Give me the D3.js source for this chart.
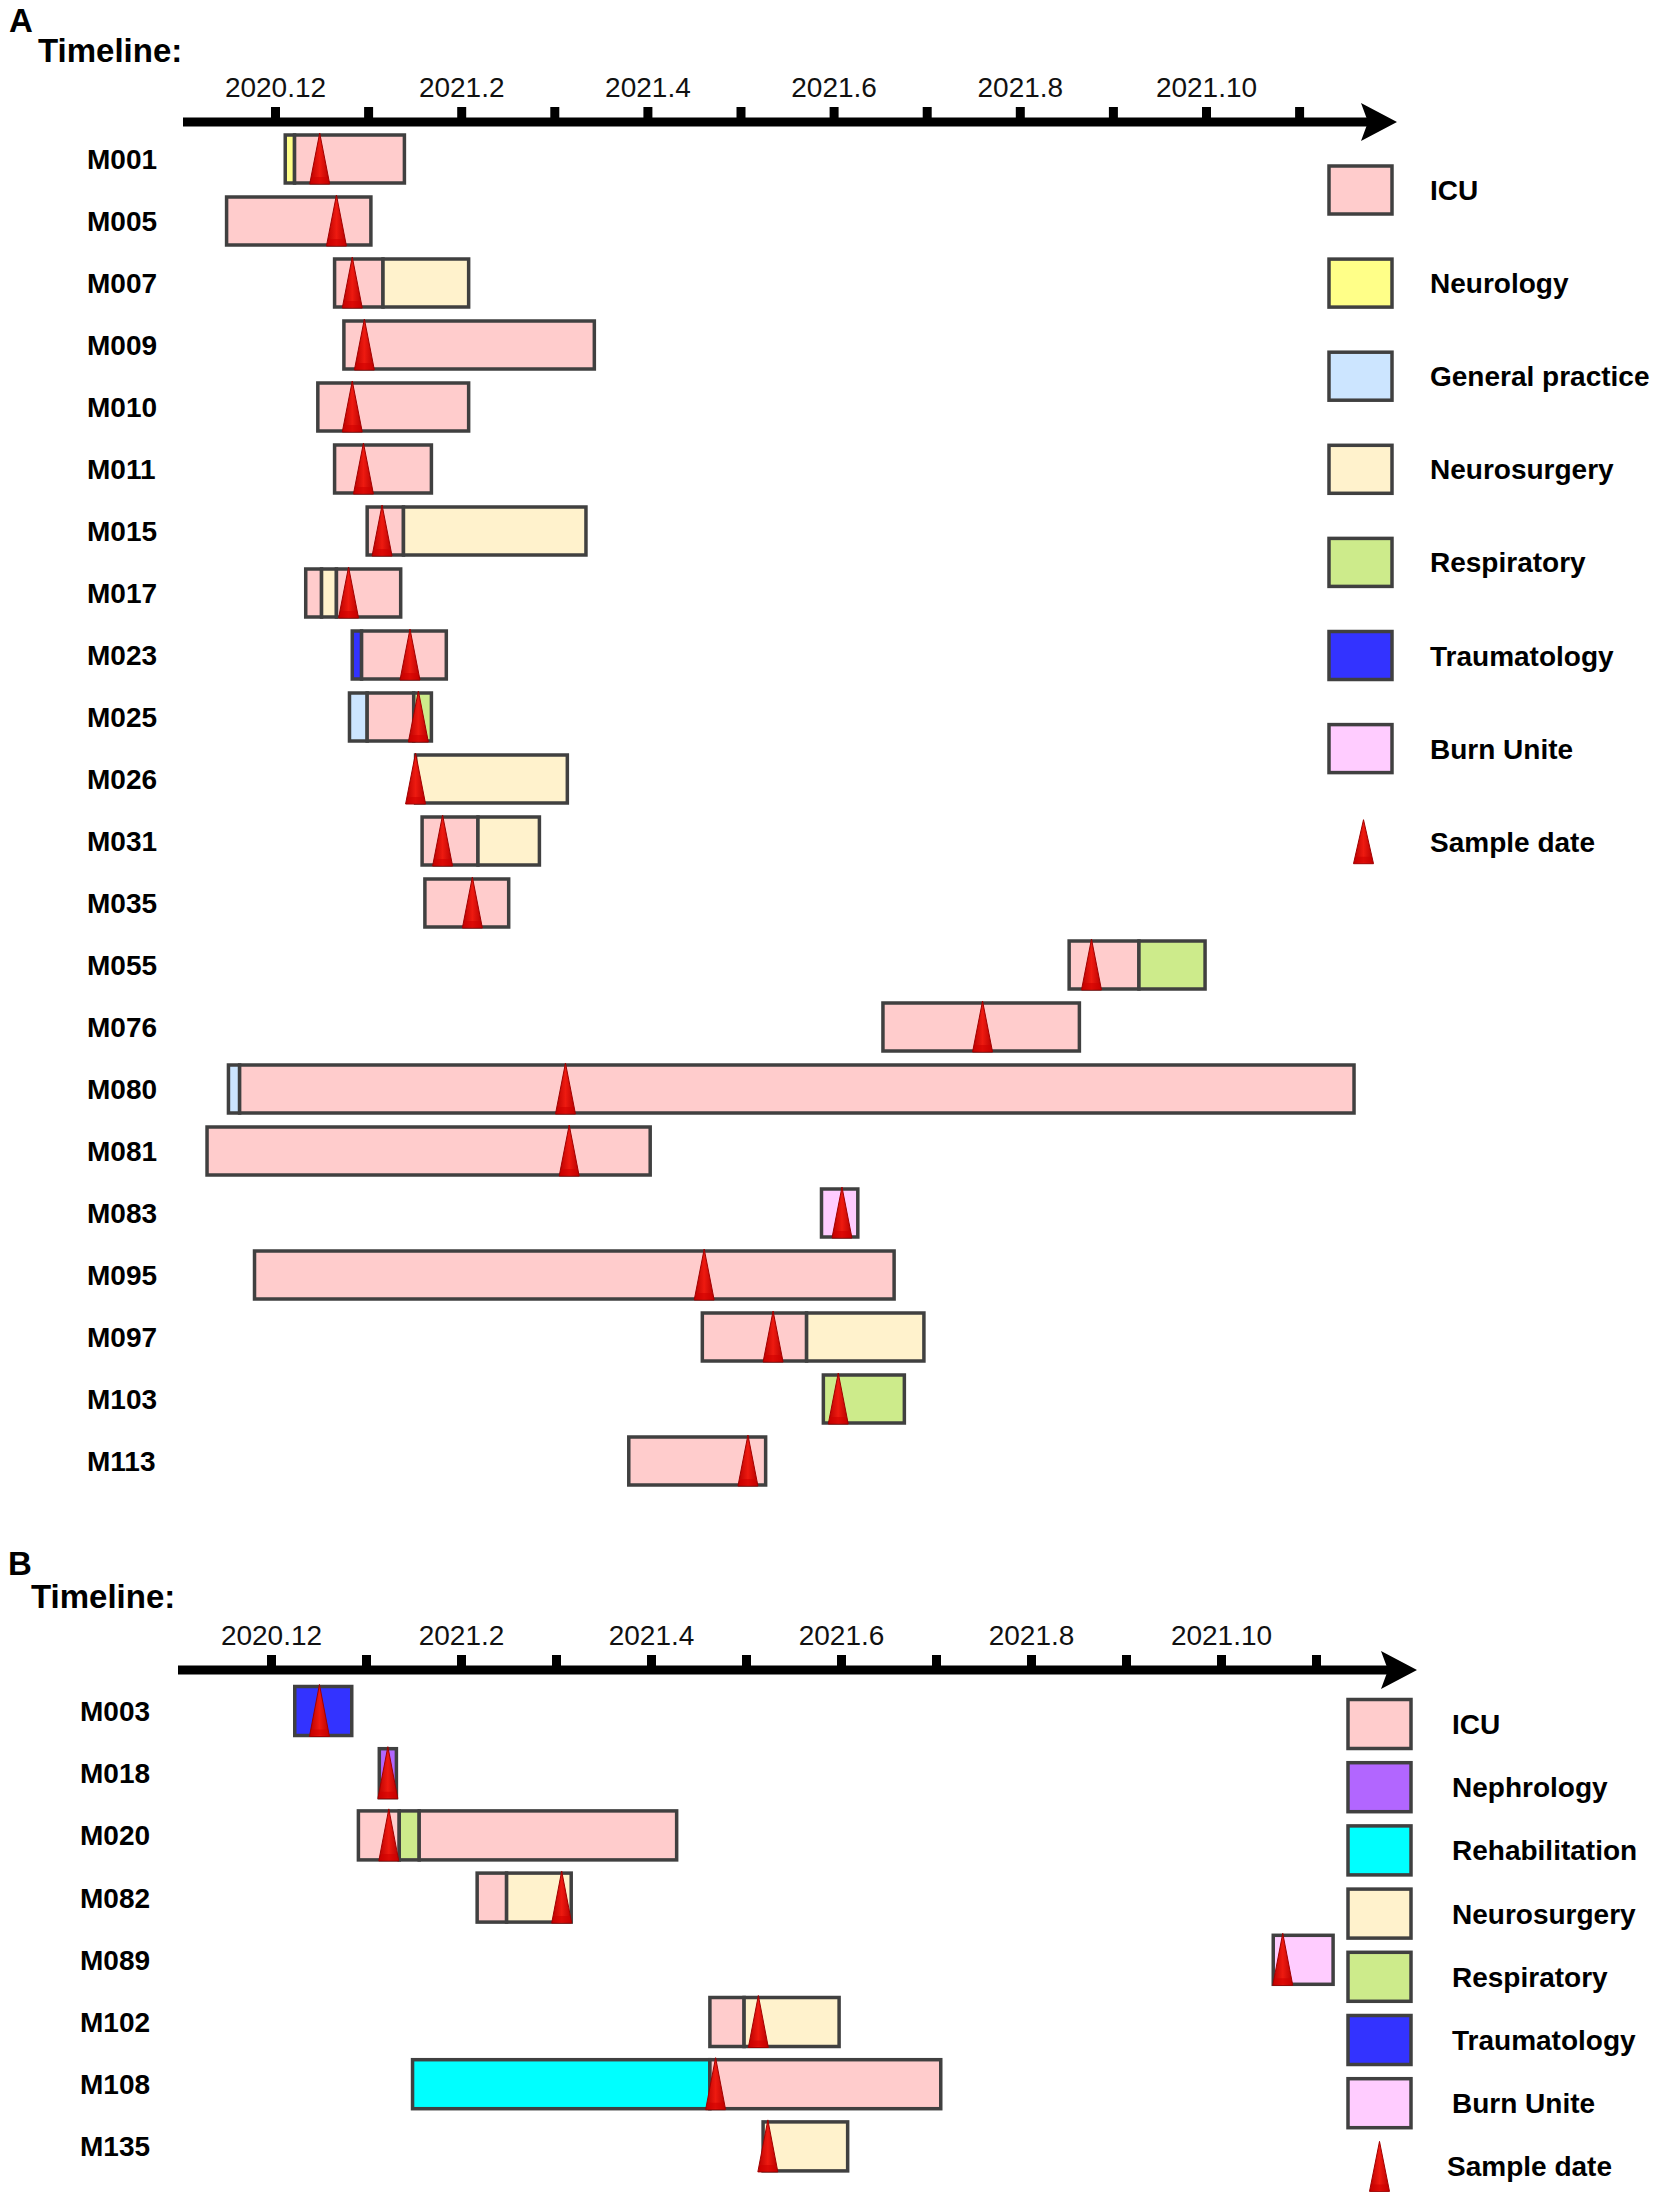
<!DOCTYPE html>
<html><head><meta charset="utf-8">
<script src="https://cdn.jsdelivr.net/npm/d3@7"></script>
<style>
body{margin:0;background:#fff;}
svg{display:block;font-family:"Liberation Sans",Arial,Helvetica,sans-serif;}
</style>
</head><body>
<svg id="chart" width="1653" height="2197"></svg>
<script>
// ---------- DATA (months since 2020.12; 0 = start of Dec 2020) ----------
const tickMonths = [0,1,2,3,4,5,6,7,8,9,10,11];
const tickLabels = ["2020.12","","2021.2","","2021.4","","2021.6","","2021.8","","2021.10",""];

const patientsA = ["M001","M005","M007","M009","M010","M011","M015","M017","M023","M025","M026",
                   "M031","M035","M055","M076","M080","M081","M083","M095","M097","M103","M113"];
const staysA = [
  [["Neurology",0.11,0.21],["ICU",0.21,1.39]],
  [["ICU",-0.52,1.03]],
  [["ICU",0.64,1.16],["Neurosurgery",1.16,2.08]],
  [["ICU",0.74,3.43]],
  [["ICU",0.46,2.08]],
  [["ICU",0.64,1.68]],
  [["ICU",0.99,1.38],["Neurosurgery",1.38,3.34]],
  [["ICU",0.33,0.50],["Neurosurgery",0.50,0.66],["ICU",0.66,1.35]],
  [["Traumatology",0.83,0.93],["ICU",0.93,1.84]],
  [["General practice",0.80,0.99],["ICU",0.99,1.49],["Respiratory",1.49,1.68]],
  [["Neurosurgery",1.51,3.14]],
  [["ICU",1.58,2.18],["Neurosurgery",2.18,2.84]],
  [["ICU",1.61,2.51]],
  [["ICU",8.53,9.28],["Respiratory",9.28,9.99]],
  [["ICU",6.53,8.64]],
  [["General practice",-0.50,-0.38],["ICU",-0.38,11.59]],
  [["ICU",-0.73,4.03]],
  [["Burn Unite",5.87,6.26]],
  [["ICU",-0.22,6.65]],
  [["ICU",4.59,5.71],["Neurosurgery",5.71,6.97]],
  [["Respiratory",5.89,6.76]],
  [["ICU",3.80,5.27]]
];
const samplesA = [0.48,0.66,0.83,0.96,0.83,0.95,1.15,0.79,1.45,1.54,1.51,
                  1.80,2.12,8.77,7.60,3.12,3.16,6.09,4.61,5.35,6.05,5.08];
const legendA = ["ICU","Neurology","General practice","Neurosurgery","Respiratory","Traumatology","Burn Unite","Sample date"];

const patientsB = ["M003","M018","M020","M082","M089","M102","M108","M135"];
const staysB = [
  [["Traumatology",0.25,0.85]],
  [["Nephrology",1.14,1.32]],
  [["ICU",0.92,1.35],["Respiratory",1.35,1.56],["ICU",1.56,4.27]],
  [["ICU",2.17,2.48],["Neurosurgery",2.48,3.16]],
  [["Burn Unite",10.55,11.18]],
  [["ICU",4.62,4.98],["Neurosurgery",4.98,5.98]],
  [["Rehabilitation",1.49,4.62],["ICU",4.62,7.05]],
  [["Neurosurgery",5.18,6.07]]
];
const samplesB = [0.51,1.23,1.24,3.06,10.65,5.13,4.68,5.23];
const legendB = ["ICU","Nephrology","Rehabilitation","Neurosurgery","Respiratory","Traumatology","Burn Unite","Sample date"];

// ---------- STYLES ----------
const deptColor = {
  "ICU":"#ffcccc","Neurology":"#ffff88","General practice":"#cce5ff","Neurosurgery":"#fff2cc",
  "Respiratory":"#cdeb8b","Traumatology":"#3333ff","Burn Unite":"#ffccff",
  "Nephrology":"#b266ff","Rehabilitation":"#00ffff"
};
const STROKE = "#404040";

const svg = d3.select("#chart");
svg.append("rect").attr("width",1653).attr("height",2197).attr("fill","#fff");

const defs = svg.append("defs");
const grad = defs.append("linearGradient").attr("id","tri").attr("x1","0").attr("x2","1").attr("y1","0").attr("y2","0");
grad.append("stop").attr("offset","0").attr("stop-color","#b80000");
grad.append("stop").attr("offset","0.5").attr("stop-color","#ee1a10");
grad.append("stop").attr("offset","1").attr("stop-color","#b80000");

function triangle(g, cx, top, bottom, halfW){
  g.append("path")
    .attr("d", `M${cx},${top} L${cx+halfW},${bottom} L${cx-halfW},${bottom} Z`)
    .attr("fill","url(#tri)").attr("stroke","#a00000").attr("stroke-width",1);
  g.append("path")
    .attr("d", `M${cx-halfW*0.75},${bottom-7} L${cx+halfW*0.75},${bottom-7} L${cx+halfW*0.9},${bottom-1} L${cx-halfW*0.9},${bottom-1} Z`)
    .attr("fill","#d00000").attr("opacity",0.6);
}

function drawPanel(cfg){
  const g = svg.append("g");
  const x = d3.scaleLinear().domain([0,11]).range([cfg.x0, cfg.x0 + 11*cfg.step]);
  const y = d3.scaleBand().domain(cfg.patients).range([cfg.rowTop, cfg.rowTop + cfg.patients.length*cfg.rowStep]).paddingInner(0);
  const bh = cfg.barH;

  // panel letter + title
  g.append("text").attr("x",cfg.letterX).attr("y",cfg.letterY).text(cfg.letter)
    .attr("font-size",33).attr("font-weight","bold");
  g.append("text").attr("x",cfg.titleX).attr("y",cfg.titleY).text("Timeline:")
    .attr("font-size",33).attr("font-weight","bold");

  // axis line + arrow
  const ay = cfg.axisY;
  g.append("line").attr("x1",cfg.lineStart).attr("x2",cfg.arrowTip-20).attr("y1",ay).attr("y2",ay)
    .attr("stroke","#000").attr("stroke-width",9);
  g.append("path")
    .attr("d",`M${cfg.arrowTip-36},${ay-19} L${cfg.arrowTip},${ay} L${cfg.arrowTip-36},${ay+19} L${cfg.arrowTip-29},${ay} Z`)
    .attr("fill","#000");

  const axis = d3.axisTop(x).tickValues(tickMonths).tickSize(15).tickPadding(10)
    .tickFormat((d,i)=>tickLabels[i]);
  const ag = g.append("g").attr("transform",`translate(0,${ay})`).call(axis);
  ag.select(".domain").remove();
  ag.selectAll(".tick line").attr("stroke","#000").attr("stroke-width",9);
  ag.selectAll(".tick text").attr("font-size",28).attr("fill","#111").attr("font-family",'"Liberation Sans",Arial,sans-serif');

  // rows
  cfg.patients.forEach((p,i)=>{
    const cy = y(p) + y.bandwidth()/2;
    g.append("text").attr("x",cfg.labelX).attr("y",cy).attr("dy","0.36em").text(p)
      .attr("font-size",28).attr("font-weight","bold");
    const rg = g.append("g");
    rg.selectAll("rect").data(cfg.stays[i]).join("rect")
      .attr("x",d=>x(d[1])).attr("width",d=>x(d[2])-x(d[1]))
      .attr("y",cy-bh/2).attr("height",bh)
      .attr("fill",d=>deptColor[d[0]]).attr("stroke",STROKE).attr("stroke-width",3.5);
    triangle(rg, x(cfg.samples[i]), cy-bh/2-2, cy+bh/2+1, 10);
  });

  // legend
  cfg.legend.forEach((name,i)=>{
    const cy = cfg.legTop + i*cfg.legStep;
    if(name==="Sample date"){
      triangle(g, cfg.legBoxX+cfg.legBoxW/2+cfg.triDx, cy-cfg.triUp, cy+cfg.triDown, 10);
      g.append("text").attr("x",cfg.legTextX+cfg.sampleDx).attr("y",cy).attr("dy","0.36em").text(name)
        .attr("font-size",28).attr("font-weight","bold");
    } else {
      g.append("rect").attr("x",cfg.legBoxX).attr("y",cy-cfg.legBoxH/2).attr("width",cfg.legBoxW).attr("height",cfg.legBoxH)
        .attr("fill",deptColor[name]).attr("stroke",STROKE).attr("stroke-width",3.5);
      g.append("text").attr("x",cfg.legTextX).attr("y",cy).attr("dy","0.36em").text(name)
        .attr("font-size",28).attr("font-weight","bold");
    }
  });
}

drawPanel({
  letter:"A", letterX:9, letterY:32, titleX:38, titleY:62,
  x0:275, step:93.1, axisY:122, lineStart:183, arrowTip:1397,
  patients:patientsA, stays:staysA, samples:samplesA,
  rowTop:159-31, rowStep:62.0, barH:48, labelX:87,
  legend:legendA, legTop:190, legStep:93.1, legBoxX:1329, legBoxW:63, legBoxH:48, legTextX:1430,
  sampleDx:0, triDx:3, triUp:22, triDown:22
});

drawPanel({
  letter:"B", letterX:8, letterY:1575, titleX:31, titleY:1608,
  x0:271, step:95, axisY:1670, lineStart:178, arrowTip:1417,
  patients:patientsB, stays:staysB, samples:samplesB,
  rowTop:1711-31.1, rowStep:62.2, barH:49, labelX:80,
  legend:legendB, legTop:1724, legStep:63.2, legBoxX:1348, legBoxW:63, legBoxH:49, legTextX:1452,
  sampleDx:-5, triDx:0, triUp:25, triDown:25
});
</script>
</body></html>
